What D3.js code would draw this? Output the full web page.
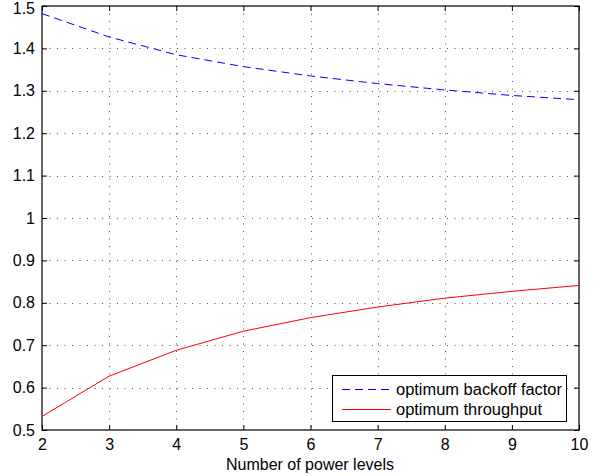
<!DOCTYPE html>
<html>
<head>
<meta charset="utf-8">
<script src="https://cdn.jsdelivr.net/npm/d3@7"></script>
<style>
  body { margin: 0; background: #fff; }
  text { font-family: "Liberation Sans", Arial, sans-serif; }
</style>
</head>
<body>
<div id="chart-area"></div>
<script>
// data
let levels = [2, 3, 4, 5, 6, 7, 8, 9, 10];
let backoff = [1.482, 1.427, 1.385, 1.357, 1.335, 1.317, 1.302, 1.289, 1.279];
let throughput = [0.532, 0.627, 0.688, 0.733, 0.765, 0.790, 0.811, 0.827, 0.841];
let xTicks = [2, 3, 4, 5, 6, 7, 8, 9, 10];
let yTicks = [0.5, 0.6, 0.7, 0.8, 0.9, 1, 1.1, 1.2, 1.3, 1.4, 1.5];
let seriesNames = ["optimum backoff factor", "optimum throughput"];

let w = 609, h = 476;
let pLeft = 42, pRight = 579, pTop = 6, pBottom = 430;

let svg = d3.select("#chart-area")
    .append("svg")
    .attr("width", w)
    .attr("height", h);

let x = d3.scaleLinear().domain([2, 10]).range([pLeft, pRight]);
let y = d3.scaleLinear().domain([0.5, 1.5]).range([pBottom, pTop]);

// grid
svg.append("g").selectAll("line")
    .data(xTicks.slice(1, -1))
    .enter()
    .append("line")
      .attr("x1", d => Math.round(x(d)) + 0.5).attr("x2", d => Math.round(x(d)) + 0.5)
      .attr("y1", pTop).attr("y2", pBottom)
      .attr("stroke", "#555")
      .attr("stroke-dasharray", "1,6.5");
svg.append("g").selectAll("line")
    .data(yTicks.slice(1, -1))
    .enter()
    .append("line")
      .attr("x1", pLeft).attr("x2", pRight)
      .attr("y1", d => Math.round(y(d)) + 0.5).attr("y2", d => Math.round(y(d)) + 0.5)
      .attr("stroke", "#555")
      .attr("stroke-dasharray", "1,6.5");

// axes (ticks inside, on all sides)
let tl = 5;
svg.append("g")
    .attr("transform", `translate(0,${pBottom})`)
    .call(d3.axisBottom(x).tickValues(xTicks).tickSizeInner(-tl).tickSizeOuter(0).tickPadding(9))
    .call(g => g.select(".domain").remove());
svg.append("g")
    .attr("transform", `translate(0,${pTop})`)
    .call(d3.axisTop(x).tickValues(xTicks).tickSizeInner(-tl).tickSizeOuter(0).tickFormat(""))
    .call(g => g.select(".domain").remove());
let yAxis = svg.append("g")
    .attr("transform", `translate(${pLeft},0)`)
    .call(d3.axisLeft(y).tickValues(yTicks).tickSizeInner(-tl).tickSizeOuter(0).tickPadding(7).tickFormat(d3.format("")))
    .call(g => g.select(".domain").remove());
svg.append("g")
    .attr("transform", `translate(${pRight},0)`)
    .call(d3.axisRight(y).tickValues(yTicks).tickSizeInner(-tl).tickSizeOuter(0).tickFormat(""))
    .call(g => g.select(".domain").remove());

svg.selectAll(".tick text")
    .attr("font-size", 16)
    .attr("fill", "#000")
    .attr("font-family", "Liberation Sans, Arial, sans-serif");
svg.selectAll(".tick line").attr("stroke", "#000");
// nudge the top label down a little so it is not clipped
yAxis.selectAll(".tick text").filter(d => d === 1.5).attr("y", 2.5);

// box
svg.append("rect")
    .attr("x", pLeft).attr("y", pTop)
    .attr("width", pRight - pLeft).attr("height", pBottom - pTop)
    .attr("fill", "none")
    .attr("stroke", "#000")
    .attr("stroke-width", 1.2);

// lines
let line = d3.line().x((d, i) => x(levels[i])).y(d => y(d));
svg.append("path")
    .datum(backoff)
    .attr("d", line)
    .attr("fill", "none")
    .attr("stroke", "#0000ff")
    .attr("stroke-width", 1)
    .attr("stroke-dasharray", "8,5");
svg.append("path")
    .datum(throughput)
    .attr("d", line)
    .attr("fill", "none")
    .attr("stroke", "#ff0000")
    .attr("stroke-width", 1);

// x label
svg.append("text")
    .attr("x", 310)
    .attr("y", 470)
    .attr("text-anchor", "middle")
    .attr("font-size", 16)
    .text("Number of power levels");

// legend
let lg = svg.append("g");
lg.append("rect")
    .attr("x", 332.5).attr("y", 375.5)
    .attr("width", 234).attr("height", 46)
    .attr("fill", "#fff")
    .attr("stroke", "#000");
let colors = ["#0000ff", "#ff0000"];
let dashes = ["8,5", null];
let textLens = [166, 146];
seriesNames.forEach(function(name, i) {
  let yy = 389.5 + i * 20;
  lg.append("line")
    .attr("x1", 342).attr("x2", 391)
    .attr("y1", yy).attr("y2", yy)
    .attr("stroke", colors[i])
    .attr("stroke-dasharray", dashes[i]);
  lg.append("text")
    .attr("x", 396).attr("y", yy + 5.5)
    .attr("font-size", 16)
    .attr("textLength", textLens[i])
    .attr("lengthAdjust", "spacingAndGlyphs")
    .text(name);
});
</script>
</body>
</html>
